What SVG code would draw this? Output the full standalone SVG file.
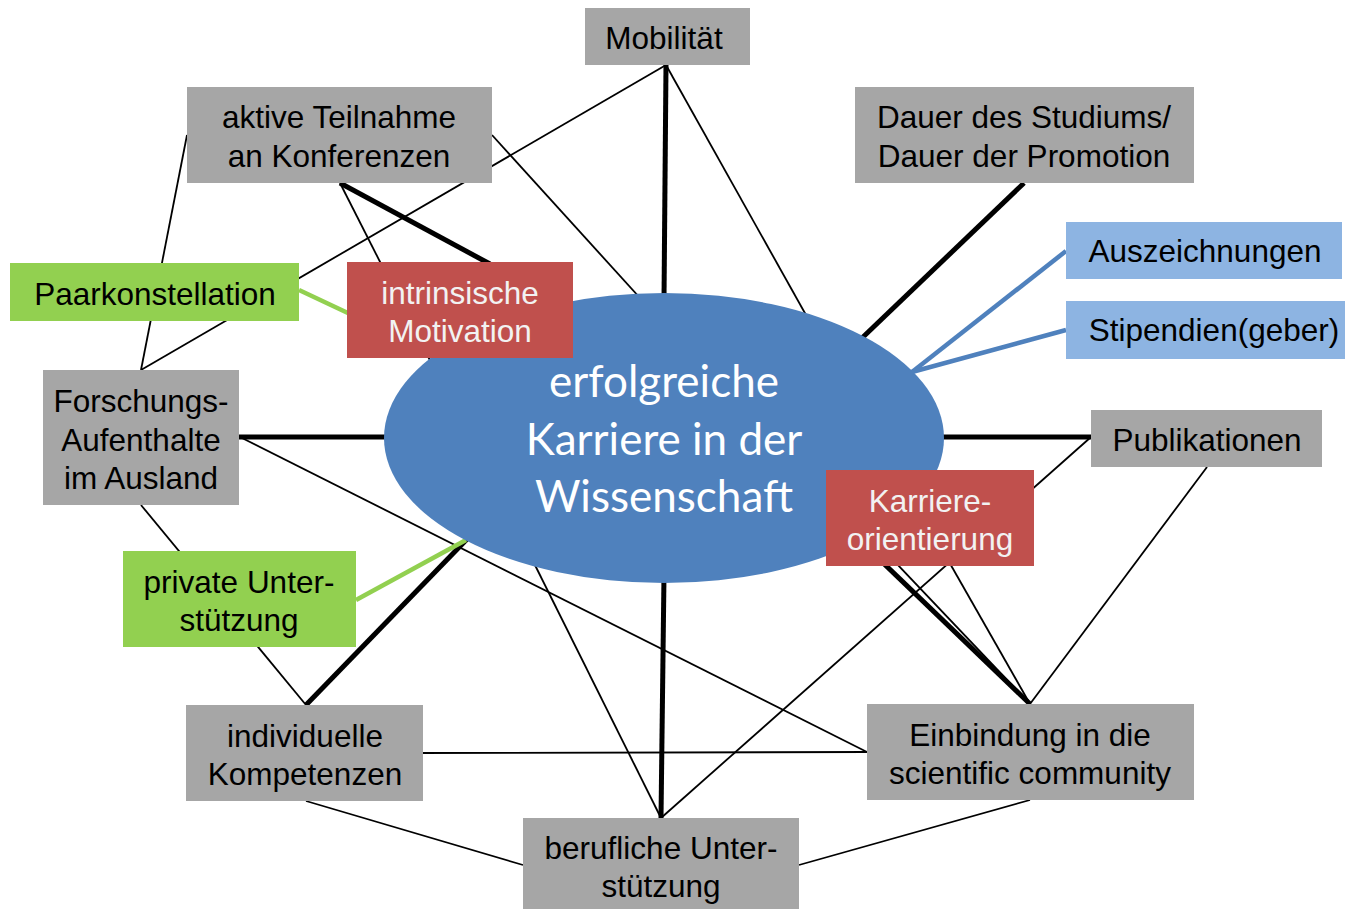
<svg xmlns="http://www.w3.org/2000/svg" width="1345" height="910" viewBox="0 0 1345 910">
<style>
.box{fill:#A6A6A6}
.grn{fill:#92D050}
.red{fill:#C0504D}
.lblue{fill:#8DB4E2}
.t{font-family:"Liberation Sans",Arial,sans-serif;font-size:31.5px;fill:#000;text-anchor:middle}
.tw{font-family:"Liberation Sans",Arial,sans-serif;font-size:31.5px;fill:#F2F2F2;text-anchor:middle}
.thin{stroke:#000;stroke-width:1.8;fill:none}
.thick{stroke:#000;stroke-width:5;fill:none}
.gline{stroke:#92D050;stroke-width:4.5;fill:none}
.bline{stroke:#4F81BD;stroke-width:4.5;fill:none}
.ct{font-family:Lato,"Open Sans",sans-serif;font-size:44px;fill:#fff;text-anchor:middle}
</style>
<rect width="1345" height="910" fill="#fff"/>
<g id="connectors">
<line class="thin" x1="666" y1="65" x2="141" y2="370"/>
<line class="thin" x1="187" y1="135" x2="141" y2="370"/>
<line class="thin" x1="340" y1="183" x2="440" y2="380"/>
<line class="thin" x1="492" y1="135" x2="660" y2="320"/>
<line class="thin" x1="666" y1="65" x2="820" y2="340"/>
<line class="thin" x1="240" y1="437" x2="867" y2="752"/>
<line class="thin" x1="141" y1="505" x2="306" y2="705"/>
<line class="thin" x1="423" y1="753" x2="867" y2="752"/>
<line class="thin" x1="306" y1="801" x2="523" y2="865"/>
<line class="thin" x1="1030" y1="800" x2="799" y2="865"/>
<line class="thin" x1="520" y1="535" x2="661" y2="818"/>
<line class="thin" x1="1091" y1="437" x2="661" y2="818"/>
<line class="thin" x1="1207" y1="467" x2="1030" y2="704"/>
<line class="thin" x1="940" y1="546" x2="1030" y2="704"/>
<line class="thin" x1="820" y1="483" x2="1030" y2="704"/>
<line class="thick" x1="666" y1="65" x2="664" y2="300"/>
<line class="thick" x1="340" y1="183" x2="490" y2="264"/>
<line class="thick" x1="1024" y1="183" x2="862" y2="338"/>
<line class="thick" x1="239" y1="437" x2="390" y2="437"/>
<line class="thick" x1="1091" y1="437" x2="940" y2="437"/>
<line class="thick" x1="664" y1="575" x2="661" y2="818"/>
<line class="thick" x1="306" y1="705" x2="470" y2="536"/>
<line class="thick" x1="800" y1="483" x2="1030" y2="704"/>
<line class="gline" x1="299" y1="290" x2="350" y2="314"/>
<line class="gline" x1="356" y1="600" x2="466" y2="540"/>
</g>
<g id="center">
<ellipse cx="664" cy="438" rx="280" ry="145" fill="#4F81BD"/>
<text class="ct" x="664" y="397">erfolgreiche</text>
<text class="ct" x="664" y="455">Karriere in der</text>
<text class="ct" x="664" y="512">Wissenschaft</text>
</g>
<g id="blue-connectors">
<line class="bline" x1="1066" y1="251" x2="912" y2="372"/>
<line class="bline" x1="1066" y1="330" x2="912" y2="372"/>
</g>
<g id="mobilitaet"><rect class="box" x="585" y="8" width="165" height="57"/><text class="t" x="664" y="49">Mobilität</text></g>
<g id="aktive"><rect class="box" x="187" y="87" width="305" height="96"/><text class="t" x="339" y="128">aktive Teilnahme</text><text class="t" x="339" y="167">an Konferenzen</text></g>
<g id="dauer"><rect class="box" x="855" y="87" width="339" height="96"/><text class="t" x="1024" y="128">Dauer des Studiums/</text><text class="t" x="1024" y="167">Dauer der Promotion</text></g>
<g id="auszeichnungen"><rect class="lblue" x="1066" y="222" width="276" height="57"/><text class="t" x="1205" y="262">Auszeichnungen</text></g>
<g id="stipendien"><rect class="lblue" x="1066" y="301" width="279" height="58"/><text class="t" x="1214" y="341">Stipendien(geber)</text></g>
<g id="paar"><rect class="grn" x="10" y="263" width="289" height="58"/><text class="t" x="155" y="305">Paarkonstellation</text></g>
<g id="intrinsisch"><rect class="red" x="347" y="262" width="226" height="96"/><text class="tw" x="460" y="304">intrinsische</text><text class="tw" x="460" y="342">Motivation</text></g>
<g id="forschung"><rect class="box" x="43" y="370" width="196" height="135"/><text class="t" x="141" y="412">Forschungs-</text><text class="t" x="141" y="451">Aufenthalte</text><text class="t" x="141" y="489">im Ausland</text></g>
<g id="publikationen"><rect class="box" x="1091" y="410" width="231" height="57"/><text class="t" x="1207" y="451">Publikationen</text></g>
<g id="karriere"><rect class="red" x="826" y="470" width="208" height="96"/><text class="tw" x="930" y="512">Karriere-</text><text class="tw" x="930" y="550">orientierung</text></g>
<g id="privat"><rect class="grn" x="123" y="551" width="233" height="96"/><text class="t" x="239" y="593">private Unter-</text><text class="t" x="239" y="631">stützung</text></g>
<g id="individuell"><rect class="box" x="186" y="705" width="237" height="96"/><text class="t" x="305" y="747">individuelle</text><text class="t" x="305" y="785">Kompetenzen</text></g>
<g id="einbindung"><rect class="box" x="867" y="704" width="327" height="96"/><text class="t" x="1030" y="746">Einbindung in die</text><text class="t" x="1030" y="784">scientific community</text></g>
<g id="beruflich"><rect class="box" x="523" y="818" width="276" height="91"/><text class="t" x="661" y="859">berufliche Unter-</text><text class="t" x="661" y="897">stützung</text></g>
</svg>
